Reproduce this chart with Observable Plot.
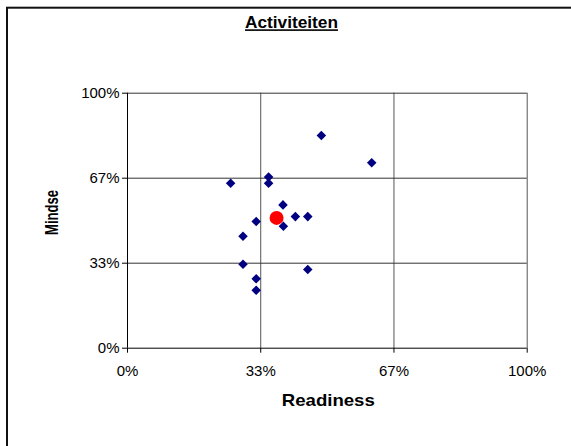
<!DOCTYPE html>
<html><head><meta charset="utf-8">
<script src="https://cdn.jsdelivr.net/npm/d3@7"></script>
<script src="https://cdn.jsdelivr.net/npm/@observablehq/plot@0.6"></script>
<style>
body{margin:0;background:#fff;}
#chart{width:571px;height:446px;overflow:hidden;}
</style></head>
<body><div id="chart"></div>
<script>
// Data (fractions of 100%)
const readiness = [0.485, 0.611, 0.258, 0.353, 0.353, 0.389, 0.420, 0.451, 0.322, 0.390, 0.289, 0.289, 0.451, 0.322, 0.322];
const mindset   = [0.834, 0.727, 0.647, 0.671, 0.647, 0.562, 0.516, 0.516, 0.497, 0.478, 0.439, 0.329, 0.309, 0.272, 0.227];
const avgReadiness = [0.373];
const avgMindset = [0.511];
const tickValues = [0, 1/3, 2/3, 1];
const tickLabels = ["0%", "33%", "67%", "100%"];
const titleText = "Activiteiten";
const xLabel = "Readiness";
const yLabel = "Mindse";

const points = readiness.map((r, i) => ({x: r, y: mindset[i]}));
const avg = avgReadiness.map((r, i) => ({x: r, y: avgMindset[i]}));
const fmt = d => tickLabels[tickValues.indexOf(d)];

const W = 571, H = 446;
const chart = Plot.plot({
  width: W, height: H,
  marginLeft: 127, marginRight: 44.3, marginTop: 92.7, marginBottom: 98.3,
  style: {fontFamily: "Arial, 'Liberation Sans', sans-serif", fontSize: "15px", color: "#000", background: "#fff", overflow: "visible"},
  x: {domain: [0, 1]},
  y: {domain: [0, 1]},
  marks: [
    Plot.ruleX(tickValues.slice(1), {stroke: "#555", strokeWidth: 1}),
    Plot.ruleY(tickValues.slice(1), {stroke: "#333", strokeWidth: 1}),
    Plot.ruleX([0], {stroke: "#000", strokeWidth: 1}),
    Plot.ruleY([0], {stroke: "#000", strokeWidth: 1}),
    Plot.axisX({ticks: tickValues, tickFormat: fmt, tickSize: 5, tickPadding: 12, label: null}),
    Plot.axisY({ticks: tickValues, tickFormat: fmt, tickSize: 5, tickPadding: 3, label: null}),
    Plot.dot(points, {x: "x", y: "y", symbol: "diamond2", r: 4.3, fill: "#000080", stroke: "none"}),
    Plot.dot(avg, {x: "x", y: "y", r: 7, fill: "#ff0000", stroke: "none"})
  ]
});
document.getElementById("chart").appendChild(chart);

const svg = d3.select(chart);
const ff = "Arial, 'Liberation Sans', sans-serif";
svg.append("rect").attr("x", 7).attr("y", 7.7).attr("width", 620).attr("height", 520)
  .attr("fill", "none").attr("stroke", "#111").attr("stroke-width", 2);
svg.append("text").text(titleText)
  .attr("x", 291.5).attr("y", 28.3).attr("text-anchor", "middle")
  .attr("font-family", ff).attr("font-size", 16).attr("font-weight", "bold")
  .attr("text-decoration", "underline").attr("fill", "#000")
  .attr("textLength", 93).attr("lengthAdjust", "spacingAndGlyphs");
svg.append("text").text(xLabel)
  .attr("x", 328.3).attr("y", 405.5).attr("text-anchor", "middle")
  .attr("font-family", ff).attr("font-size", 17).attr("font-weight", "bold").attr("fill", "#000")
  .attr("textLength", 93).attr("lengthAdjust", "spacingAndGlyphs");
svg.append("text").text(yLabel)
  .attr("transform", "translate(58,212.5) rotate(-90)").attr("text-anchor", "middle")
  .attr("font-family", ff).attr("font-size", 18).attr("font-weight", "bold").attr("fill", "#000")
  .attr("textLength", 45).attr("lengthAdjust", "spacingAndGlyphs");
</script>
</body></html>
